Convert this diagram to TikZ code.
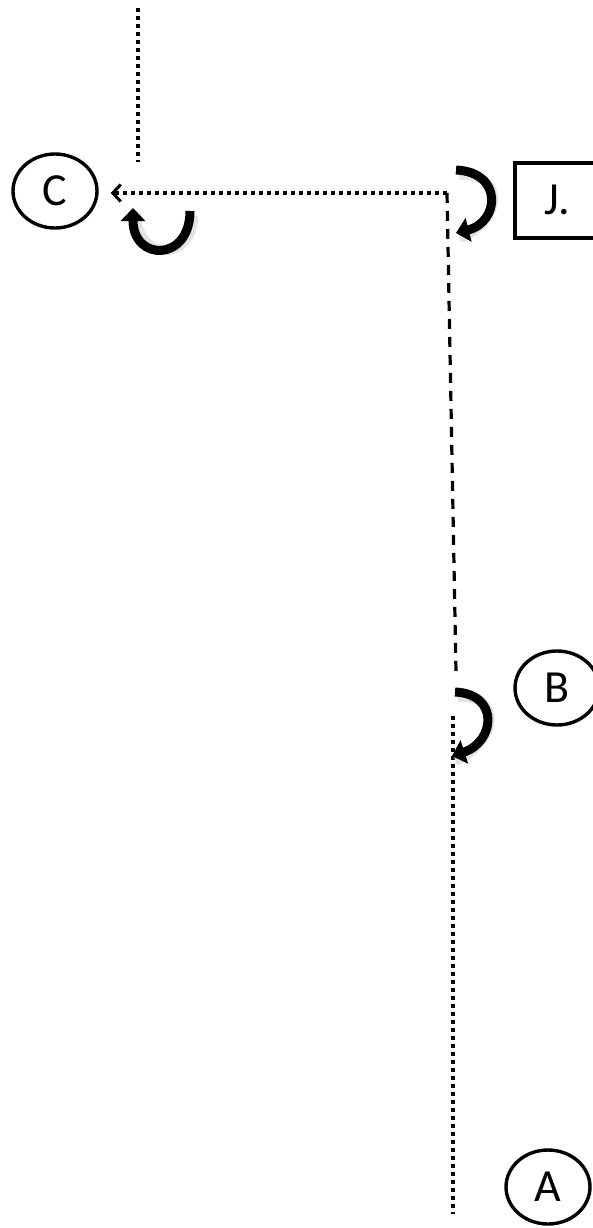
\documentclass[tikz,border=0pt]{standalone}
\usepackage{fontspec}
\setmainfont{Carlito}
\usetikzlibrary{arrows.meta,shapes.geometric}

\begin{document}
\begin{tikzpicture}[x=1pt,y=-1pt,
      loc/.style={ellipse,draw,line width=3.4pt,minimum width=84pt,
        minimum height=74pt,inner sep=0pt,font=\fontsize{46}{46}\selectfont},
      tag/.style={rectangle,draw,line width=4pt,minimum width=85pt,
        minimum height=75pt,inner sep=0pt,font=\fontsize{46}{46}\selectfont},
      dots/.style={line width=4pt,dash pattern=on 4pt off 4pt},
      dashes/.style={line width=3.2pt,dash pattern=on 10pt off 8pt},
      turn/.style={line width=9pt,-{Triangle[length=13pt,width=24pt]}},
      turnshade/.style={line width=10pt,draw=black!25,opacity=.45}]
      \useasboundingbox (0,0) rectangle (593,1228);
			\node[loc] (c) at (55,191) {C};
			\node[tag] (j) at (557,200) {J.};
			\node[loc] (b) at (557,688) {B};
			\node[loc] (a) at (548,1187) {A};
			\coordinate (top) at (138,8);
			\coordinate (topend) at (138,162);
			\coordinate (corner) at (447,193);
			\coordinate (bend) at (456,672);
			\coordinate (bstart) at (453,716);
			\coordinate (aend) at (453,1214);
			% connectors
			\draw[dots] (top) -- (topend);
			\draw[dots,-{Straight Barb[length=8pt,width=17pt,line width=3pt]}]
        (corner) -- ([xshift=12pt]c.east |- corner);
			\draw[dashes] (corner) -- (bend);
			\draw[dots] (bstart) -- (aend);
			% turning arrows
			\coordinate (ca) at (190,211);
			\coordinate (cb) at (133,208);
			\coordinate (ja) at (456,170);
			\coordinate (jb) at (456,233);
			\coordinate (ba) at (455,692);
			\coordinate (bb) at (452,756);
			\draw[turnshade] ([shift={(3,5)}]ca) .. controls (193,262) and (136,262) .. ([shift={(3,5)}]cb);
			\draw[turnshade] ([shift={(3,5)}]ja) .. controls (506,172) and (503,222) .. ([shift={(3,5)}]jb);
			\draw[turnshade] ([shift={(3,5)}]ba) .. controls (503,694) and (498,742) .. ([shift={(3,5)}]bb);
			\draw[turn] (ca) .. controls (190,262) and (133,262) .. (cb);
			\draw[turn] (ja) .. controls (503,172) and (500,222) .. (jb);
			\draw[turn] (ba) .. controls (500,694) and (495,742) .. (bb);
		\end{tikzpicture}
\end{document}
